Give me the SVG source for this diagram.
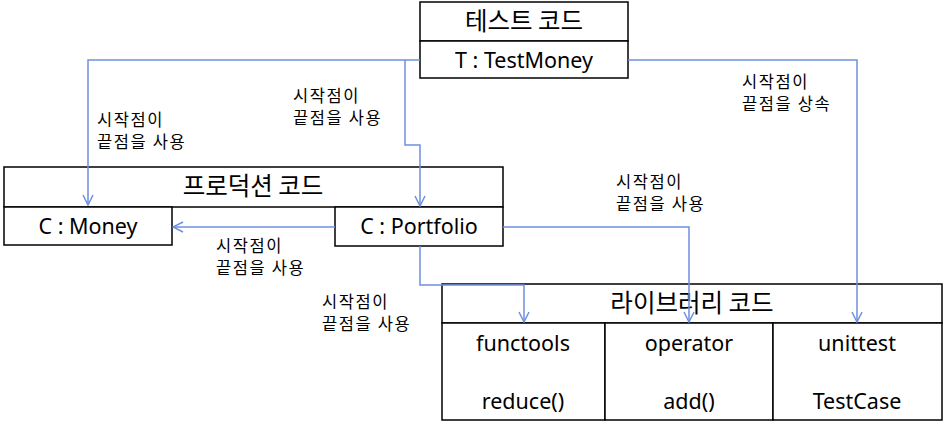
<svg xmlns="http://www.w3.org/2000/svg" width="944" height="429" viewBox="0 0 944 429">
<defs>
<style>
.box{fill:#fff;stroke:#000;stroke-width:1.5}
.ttl{font-family:"Noto Sans CJK KR","Noto Sans",sans-serif;font-size:24.5px;text-anchor:middle;fill:#000}
.nm{font-family:"Noto Sans","Noto Sans CJK KR",sans-serif;font-size:21.5px;text-anchor:middle;fill:#000}
.lbl{font-family:"Noto Sans CJK KR",sans-serif;font-size:16.5px;letter-spacing:1.6px;fill:#000}
.con{fill:none;stroke:#6F8FDF;stroke-width:1.5}
</style>
<marker id="arr" viewBox="0 0 12 12" refX="11" refY="6" markerWidth="12" markerHeight="12" markerUnits="userSpaceOnUse" orient="auto">
<path d="M1,1 L11,6 L1,11" fill="none" stroke="#6F8FDF" stroke-width="1.5"/>
</marker>
</defs>
<rect width="944" height="429" fill="#fff"/>

<g id="test-code">
<rect class="box" x="420" y="2" width="208" height="39"/>
<rect class="box" x="420" y="41" width="208" height="37"/>
<text class="ttl" x="524" y="30">테스트 코드</text>
<text class="nm" x="524" y="68">T : TestMoney</text>
</g>

<g id="production-code">
<rect class="box" x="4" y="167" width="499" height="40"/>
<text class="ttl" x="253" y="195">프로덕션 코드</text>
</g>
<g id="money">
<rect class="box" x="4" y="207" width="168" height="38"/>
<text class="nm" x="88" y="234">C : Money</text>
</g>
<g id="portfolio">
<rect class="box" x="335" y="207" width="168" height="39"/>
<text class="nm" x="419" y="234">C : Portfolio</text>
</g>

<g id="library-code">
<rect class="box" x="442" y="284" width="500" height="39"/>
<text class="ttl" x="692" y="312">라이브러리 코드</text>
</g>
<g id="functools">
<rect class="box" x="442" y="323" width="163" height="97"/>
<text class="nm" x="523" y="351">functools</text>
<text class="nm" x="523" y="409">reduce()</text>
</g>
<g id="operator">
<rect class="box" x="605" y="323" width="168" height="97"/>
<text class="nm" x="689" y="351">operator</text>
<text class="nm" x="689" y="409">add()</text>
</g>
<g id="unittest">
<rect class="box" x="773" y="323" width="169" height="97"/>
<text class="nm" x="857" y="351">unittest</text>
<text class="nm" x="857" y="409">TestCase</text>
</g>

<g id="connectors">
<polyline class="con" points="420,60 88,60 88,205" marker-end="url(#arr)"/>
<polyline class="con" points="405,60 405,145 420,145 420,206" marker-end="url(#arr)"/>
<polyline class="con" points="628,60 857,60 857,322" marker-end="url(#arr)"/>
<polyline class="con" points="335,227 173,227" marker-end="url(#arr)"/>
<polyline class="con" points="503,227 689,227 689,322" marker-end="url(#arr)"/>
<polyline class="con" points="420,246 420,285 524,285 524,322" marker-end="url(#arr)"/>
</g>

<g id="labels">
<text class="lbl" x="97" y="126">시작점이</text>
<text class="lbl" x="97" y="148">끝점을 사용</text>
<text class="lbl" x="293" y="102">시작점이</text>
<text class="lbl" x="293" y="124">끝점을 사용</text>
<text class="lbl" x="742" y="88">시작점이</text>
<text class="lbl" x="742" y="110">끝점을 상속</text>
<text class="lbl" x="616" y="188">시작점이</text>
<text class="lbl" x="616" y="210">끝점을 사용</text>
<text class="lbl" x="216" y="252">시작점이</text>
<text class="lbl" x="216" y="274">끝점을 사용</text>
<text class="lbl" x="322" y="308">시작점이</text>
<text class="lbl" x="322" y="330">끝점을 사용</text>
</g>
</svg>
